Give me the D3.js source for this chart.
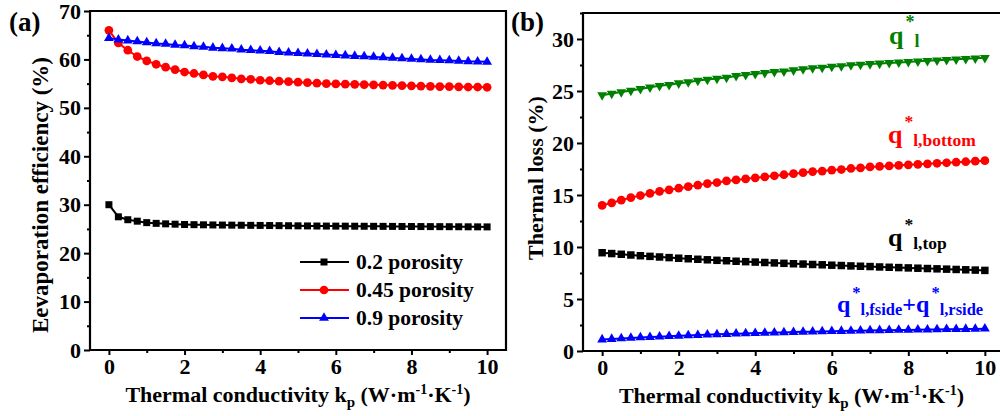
<!DOCTYPE html>
<html><head><meta charset="utf-8">
<script src="https://cdn.jsdelivr.net/npm/d3@7"></script>
<style>body{margin:0;background:#fff}svg{display:block}text{font-family:"Liberation Serif","Times New Roman",serif;font-weight:bold}</style>
</head><body><svg id="c" width="1000" height="416"></svg>
<script>
const kValues = [0,0.25,0.5,0.75,1,1.25,1.5,1.75,2,2.25,2.5,2.75,3,3.25,3.5,3.75,4,4.25,4.5,4.75,5,5.25,5.5,5.75,6,6.25,6.5,6.75,7,7.25,7.5,7.75,8,8.25,8.5,8.75,9,9.25,9.5,9.75,10];
// panel (a)
const por02 = [30.0,27.5,26.9,26.6,26.3,26.15,26.05,25.98,25.92,25.88,25.85,25.82,25.8,25.78,25.76,25.74,25.72,25.7,25.68,25.66,25.64,25.62,25.6,25.59,25.58,25.57,25.56,25.55,25.54,25.53,25.52,25.51,25.5,25.49,25.48,25.47,25.46,25.45,25.44,25.43,25.42];
const por045 = [66.0,63.4,61.9,60.6,59.7,59.0,58.4,57.9,57.4,57.1,56.8,56.5,56.4,56.2,56.0,55.9,55.7,55.6,55.5,55.4,55.3,55.2,55.1,55.0,54.95,54.9,54.85,54.8,54.75,54.7,54.65,54.6,54.55,54.5,54.45,54.4,54.4,54.35,54.3,54.3,54.25];
const por09 = [64.4,64.1,63.9,63.7,63.5,63.3,63.2,63.0,62.9,62.7,62.6,62.4,62.3,62.2,62.0,61.9,61.8,61.7,61.5,61.4,61.3,61.2,61.1,61.0,60.9,60.8,60.7,60.6,60.5,60.4,60.3,60.2,60.1,60.0,59.9,59.85,59.8,59.7,59.6,59.55,59.5];
const legendLabels = ["0.2 porosity","0.45 porosity","0.9 porosity"];
// panel (b)
const qL = [24.6,24.75,24.9,25.05,25.2,25.35,25.5,25.6,25.75,25.85,26.0,26.1,26.2,26.3,26.45,26.55,26.65,26.75,26.85,26.9,27.0,27.1,27.2,27.25,27.35,27.4,27.5,27.55,27.6,27.65,27.7,27.75,27.8,27.85,27.9,27.95,28.0,28.05,28.1,28.15,28.2];
const qBottom = [14.0,14.25,14.5,14.75,14.95,15.15,15.35,15.5,15.65,15.8,15.95,16.1,16.2,16.35,16.45,16.55,16.65,16.75,16.85,16.95,17.05,17.15,17.25,17.3,17.4,17.45,17.55,17.6,17.7,17.75,17.8,17.85,17.9,17.95,18.0,18.05,18.1,18.15,18.2,18.25,18.3];
const qTop = [9.45,9.37,9.3,9.23,9.16,9.1,9.04,8.98,8.92,8.87,8.82,8.77,8.72,8.68,8.63,8.59,8.55,8.51,8.47,8.43,8.39,8.36,8.32,8.29,8.25,8.22,8.18,8.15,8.12,8.08,8.05,8.02,7.99,7.96,7.93,7.9,7.87,7.84,7.81,7.78,7.75];
const qSide = [1.1,1.15,1.2,1.25,1.3,1.34,1.38,1.42,1.46,1.5,1.53,1.56,1.6,1.63,1.66,1.69,1.72,1.74,1.77,1.79,1.82,1.84,1.86,1.88,1.9,1.92,1.94,1.95,1.97,1.99,2.0,2.02,2.03,2.05,2.06,2.07,2.09,2.1,2.11,2.12,2.14];
const xTicks = [0,2,4,6,8,10];
const yTicksA = [0,10,20,30,40,50,60,70];
const yTicksB = [0,5,10,15,20,25,30];

const svg = d3.select("#c");

function panel(o){
  const g = svg.append("g");
  const x = d3.scaleLinear().domain([-0.5,10.5]).range([o.l,o.r]);
  const y = d3.scaleLinear().domain(o.yd).range([o.b,o.t]);
  const xa = d3.axisBottom(x).tickValues(d3.range(1,11,2)).tickSize(3).tickFormat("");
  g.append("g").attr("transform",`translate(0,${o.b})`).call(xa);
  const ya = d3.axisLeft(y).tickValues(o.yminor).tickSize(3).tickFormat("");
  g.append("g").attr("transform",`translate(${o.l},0)`).call(ya);
  const xM = d3.axisBottom(x).tickValues(xTicks).tickSize(5).tickPadding(3).tickFormat(d3.format("d"));
  g.append("g").attr("transform",`translate(0,${o.b})`).call(xM);
  const yM = d3.axisLeft(y).tickValues(o.yt).tickSize(6).tickPadding(3).tickFormat(d3.format("d"));
  g.append("g").attr("transform",`translate(${o.l},0)`).call(yM);
  g.selectAll(".domain").remove();
  g.selectAll(".tick line").attr("stroke","#000").attr("stroke-width",2);
  g.selectAll(".tick text").attr("fill","#000").style("font-size","22px");
  g.append("line").attr("x1",o.l).attr("x2",o.l).attr("y1",o.t).attr("y2",o.b+1).attr("stroke","#000").attr("stroke-width",2.2);
  g.append("line").attr("x1",o.l-1).attr("x2",o.r).attr("y1",o.b).attr("y2",o.b).attr("stroke","#000").attr("stroke-width",2.2);
  g.append("line").attr("x1",o.l-1).attr("x2",o.r+1).attr("y1",o.t).attr("y2",o.t).attr("stroke","#000").attr("stroke-width",2.2);
  if(o.rightAxis) g.append("line").attr("x1",o.r).attr("x2",o.r).attr("y1",o.t).attr("y2",o.b+1).attr("stroke","#000").attr("stroke-width",2.2);
  const line = d3.line().x((d,i)=>x(kValues[i])).y(d=>y(d));
  o.series.forEach(s=>{
    g.append("path").attr("d",line(s.v)).attr("fill","none").attr("stroke",s.c).attr("stroke-width",2);
    const sym = d3.symbol().type(s.t).size(s.sz);
    g.selectAll(null).data(s.v).enter().append("path").attr("d",sym)
      .attr("transform",(d,i)=>`translate(${x(kValues[i])},${y(d)})${s.rot?" rotate(180)":""}`)
      .attr("fill",s.c);
  });
  const xt = g.append("text").attr("x",(o.l+Math.min(o.r,1000))/2).attr("y",o.b+52).attr("text-anchor","middle").style("font-size","22px");
  xt.append("tspan").text("Thermal conductivity k");
  xt.append("tspan").text("p").attr("dy",5).style("font-size","15px");
  xt.append("tspan").text(" (W·m").attr("dy",-5);
  xt.append("tspan").text("-1").attr("dy",-8).style("font-size","14px");
  xt.append("tspan").text("·K").attr("dy",8);
  xt.append("tspan").text("-1").attr("dy",-8).style("font-size","14px");
  xt.append("tspan").text(")").attr("dy",8);
  g.append("text").attr("transform",`translate(${o.ytx},${o.yty}) rotate(-90)`).attr("text-anchor","middle").style("font-size",o.yts+"px").text(o.ytitle);
  g.append("text").attr("x",o.plx).attr("y",31).style("font-size","27px").text(o.pl);
  return {g,x,y};
}

const A = panel({l:90,r:506,t:11,b:350,yd:[0,70],yt:yTicksA,yminor:d3.range(5,70,10),rightAxis:true,
  ytitle:"Eevaporation efficiency (%)",ytx:48,yty:195,yts:23,pl:"(a)",plx:9,
  series:[{v:por02,c:"#000",t:d3.symbolSquare,sz:49},{v:por045,c:"#ff0000",t:d3.symbolCircle,sz:60},{v:por09,c:"#0000ff",t:d3.symbolTriangle,sz:42}]});

const legendColors = ["#000","#ff0000","#0000ff"];
const legendSyms = [[d3.symbolSquare,49],[d3.symbolCircle,60],[d3.symbolTriangle,42]];
const legY = [262,290,318];
legendLabels.forEach((t,i)=>{
  A.g.append("line").attr("x1",300).attr("x2",349).attr("y1",legY[i]).attr("y2",legY[i]).attr("stroke",legendColors[i]).attr("stroke-width",2);
  A.g.append("path").attr("d",d3.symbol().type(legendSyms[i][0]).size(legendSyms[i][1])).attr("transform",`translate(324,${legY[i]})`).attr("fill",legendColors[i]);
  A.g.append("text").attr("x",356).attr("y",legY[i]+7).style("font-size","21.5px").text(t);
});

const B = panel({l:583,r:1004,t:13,b:351,yd:[0,32.5],yt:yTicksB,yminor:[2.5,7.5,12.5,17.5,22.5,27.5,32.5],rightAxis:false,
  ytitle:"Thermal loss (%)",ytx:543,yty:178,yts:22,pl:"(b)",plx:511,
  series:[{v:qL,c:"#008000",t:d3.symbolTriangle,sz:42,rot:true},{v:qBottom,c:"#ff0000",t:d3.symbolCircle,sz:60},{v:qTop,c:"#000",t:d3.symbolSquare,sz:56},{v:qSide,c:"#0000ff",t:d3.symbolTriangle,sz:42}]});

function qlabel(x0,yb,color,qs,ss,parts){
  const t = B.g.append("text").attr("x",x0).attr("y",yb).attr("fill",color).style("font-size",qs+"px");
  parts.forEach(p=>{
    if(p.q){
      t.append("tspan").text("q").style("font-size",qs+"px");
      t.append("tspan").text("*").style("font-size",ss+"px").attr("dy",-qs*0.6).attr("dx",2);
      t.append("tspan").text(p.sub).style("font-size",ss+"px").attr("dy",qs*0.6+3).attr("dx",0);
    } else {
      t.append("tspan").text(p.txt).style("font-size",qs+"px").attr("dy",-3);
    }
  });
}
qlabel(889,44,"#008000",26,18,[{q:true,sub:"l"}]);
qlabel(888,143,"#ff0000",26,17.5,[{q:true,sub:"l,bottom"}]);
qlabel(888,246,"#000",26,17.5,[{q:true,sub:"l,top"}]);
qlabel(837,312,"#0000ff",24,16.5,[{q:true,sub:"l,fside"},{txt:"+"},{q:true,sub:"l,rside"}]);
</script></body></html>
